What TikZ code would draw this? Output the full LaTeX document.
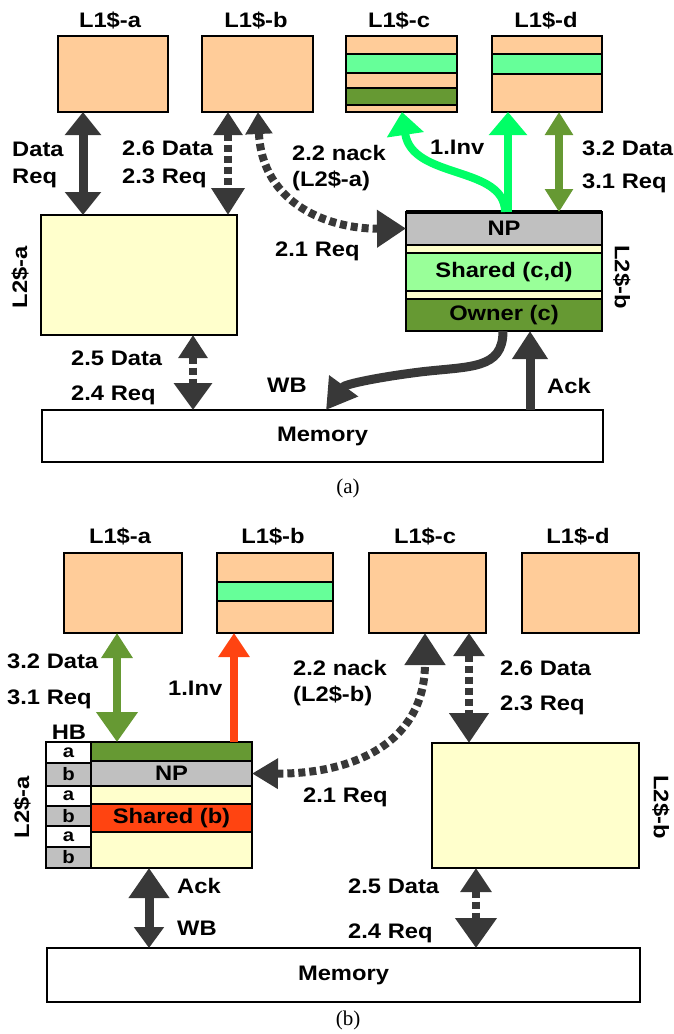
\documentclass[tikz,border=0pt]{standalone}
\usepackage{fontspec}
\newfontfamily\labfont[FakeStretch=1.13]{Liberation Sans}
\newfontfamily\capfont{Liberation Serif}
\usetikzlibrary{arrows.meta}
\definecolor{peach}{HTML}{FFCC99}
\definecolor{lyellow}{HTML}{FFFFCC}
\definecolor{stripegreen}{HTML}{66FF99}
\definecolor{sharedgreen}{HTML}{99FF99}
\definecolor{ogreen}{HTML}{669933}
\definecolor{npgray}{HTML}{C0C0C0}
\definecolor{adark}{HTML}{383838}
\definecolor{invgreen}{HTML}{00FF66}
\definecolor{invred}{HTML}{FF4411}
\tikzset{
  lbl/.style={font=\labfont\bfseries\fontsize{21}{24}\selectfont, inner sep=0pt, anchor=base west},
  clbl/.style={lbl, anchor=base},
  rlbl/.style={font=\labfont\bfseries\fontsize{21}{24}\selectfont, inner sep=0pt, anchor=center},
  cbox/.style={draw=black, line width=2pt, inner sep=0pt, outer sep=0pt, rectangle,
    font=\labfont\bfseries\fontsize{21}{24}\selectfont},
  hbcell/.style={cbox, minimum width=45pt, font=\labfont\bfseries\fontsize{18}{20}\selectfont},
  solidarr/.style={draw=adark, line width=9pt},
  dasharr/.style={draw=adark, line width=8pt, dash pattern=on 7pt off 4pt},
  grarr/.style={draw=invgreen, line width=8pt},
  olarr/.style={draw=ogreen, line width=8pt},
  rdarr/.style={draw=invred, line width=8pt},
}
\begin{document}
\begin{tikzpicture}[x=1pt,y=-1pt]
\useasboundingbox (0,0) rectangle (673,1034);
% ================= panel (a) =================
\node[clbl] (tl1aA) at (110,27) {L1\$-a};
\node[clbl] (tl1bA) at (256,27) {L1\$-b};
\node[clbl] (tl1cA) at (399,27) {L1\$-c};
\node[clbl] (tl1dA) at (546,27) {L1\$-d};
\node[cbox, fill=peach, minimum width=110pt, minimum height=76pt] (l1aA) at (113,74) {};
\node[cbox, fill=peach, minimum width=111pt, minimum height=76pt] (l1bA) at (257.5,74) {};
\node[cbox, fill=peach, minimum width=111pt, minimum height=76pt] (l1cA) at (401.5,74) {};
\node[cbox, fill=stripegreen, minimum width=111pt, minimum height=19pt] (l1cAs1) at (401.5,63.5) {};
\node[cbox, fill=ogreen, minimum width=111pt, minimum height=17pt] (l1cAs2) at (401.5,96.5) {};
\node[cbox, fill=peach, minimum width=110pt, minimum height=76pt] (l1dA) at (547,74) {};
\node[cbox, fill=stripegreen, minimum width=110pt, minimum height=20pt] (l1dAs1) at (547,64) {};
% L2$-a
\node[cbox, fill=lyellow, minimum width=196pt, minimum height=120pt] (l2aA) at (139,275) {};
\node[rlbl, rotate=90] (tl2aA) at (20,277) {L2\$-a};
% L2$-b
\node[cbox, fill=npgray, minimum width=196pt, minimum height=33pt] (npA) at (504,228.5) {NP};
\node[cbox, fill=lyellow, minimum width=196pt, minimum height=8pt] (yA1) at (504,249) {};
\node[cbox, fill=sharedgreen, minimum width=196pt, minimum height=38pt] (shA) at (504,272) {Shared (c,d)};
\node[cbox, fill=lyellow, minimum width=196pt, minimum height=8pt] (yA2) at (504,295) {};
\node[cbox, fill=ogreen, minimum width=196pt, minimum height=32pt] (owA) at (504,315) {Owner (c)};
\node[cbox, minimum width=196pt, minimum height=119pt] (l2bA) at (504,271.5) {};
\draw[line width=3.5pt] (l2bA.north west) -- (l2bA.north east);
\node[rlbl, rotate=-90] (tl2bA) at (622,277) {L2\$-b};
% Memory
\node[cbox, fill=white, minimum width=561pt, minimum height=52pt] (memA) at (322.5,436) {Memory};
% coordinates for arrow x positions
\coordinate (xa1) at (83,0);
\coordinate (xa2) at (228,0);
\coordinate (xa3) at (258,0);
\coordinate (xa4) at (508,0);
\coordinate (xa5) at (505,0);
\coordinate (xa5b) at (402,0);
\coordinate (xa6) at (559,0);
\coordinate (xa7) at (503,0);
\coordinate (xa7b) at (326,0);
\coordinate (xa8) at (530,0);
\coordinate (xa9) at (193,0);
% arrows (a)
\draw[solidarr, {Triangle[width=35pt,length=23pt]}-{Triangle[width=35pt,length=23pt]}]
  (xa1 |- l1aA.south) -- (xa1 |- l2aA.north);
\draw[dasharr, {Triangle[width=28pt,length=23pt]}-{Triangle[width=32pt,length=27pt]}]
  (xa2 |- l1bA.south) -- (xa2 |- l2aA.north);
\draw[dasharr, {Triangle[width=26pt,length=22pt]}-{Triangle[width=36pt,length=29pt]}]
  (xa3 |- l1bA.south) .. controls (262,205) and (330,229) .. (npA.west);
\draw[grarr, -{Triangle[width=37pt,length=23pt]}] (xa4 |- npA.north) -- (xa4 |- l1dA.south);
\draw[grarr, -{Triangle[width=36pt,length=23pt]}]
  (xa5 |- npA.north) .. controls (505,165) and (412,180) .. (xa5b |- l1cA.south);
\draw[olarr, {Triangle[width=27pt,length=23pt]}-{Triangle[width=27pt,length=23pt]}]
  (xa6 |- l1dA.south) -- (xa6 |- npA.north);
\draw[solidarr, -{Triangle[width=34pt,length=30pt]}]
  (xa7 |- owA.south) .. controls (503,370) and (470,366) .. (420,372)
  .. controls (380,377) and (345,384) .. (xa7b |- memA.north);
\draw[solidarr, -{Triangle[width=34pt,length=28pt]}] (xa8 |- memA.north) -- (xa8 |- l2bA.south);
\draw[dasharr, {Triangle[width=28pt,length=23pt]}-{Triangle[width=37pt,length=27pt]}]
  (xa9 |- l2aA.south) -- (xa9 |- memA.north);
% labels (a)
\node[lbl] (tdA) at (12,156) {Data};
\node[lbl] (trA) at (12,183) {Req};
\node[lbl] (t26A) at (122,155) {2.6 Data};
\node[lbl] (t23A) at (122,183) {2.3 Req};
\node[lbl] (t22A) at (292,160) {2.2 nack};
\node[lbl] (tl2A) at (292,186) {(L2\$-a)};
\node[lbl] (tinvA) at (430,154) {1.Inv};
\node[lbl] (t32A) at (582,155) {3.2 Data};
\node[lbl] (t31A) at (582,188) {3.1 Req};
\node[lbl] (t21A) at (275,256) {2.1 Req};
\node[lbl] (t25A) at (71,365) {2.5 Data};
\node[lbl] (t24A) at (71,400) {2.4 Req};
\node[lbl] (twbA) at (267,392) {WB};
\node[lbl] (tackA) at (547,393) {Ack};
\node[font=\capfont\fontsize{21}{24}\selectfont, anchor=base, inner sep=0pt] (capA) at (348,493) {(a)};
% ================= panel (b) =================
\node[clbl] (tl1aB) at (120,543) {L1\$-a};
\node[clbl] (tl1bB) at (273,543) {L1\$-b};
\node[clbl] (tl1cB) at (425,543) {L1\$-c};
\node[clbl] (tl1dB) at (578,543) {L1\$-d};
\node[cbox, fill=peach, minimum width=118pt, minimum height=80pt] (l1aB) at (123,593) {};
\node[cbox, fill=peach, minimum width=116pt, minimum height=80pt] (l1bB) at (275,593) {};
\node[cbox, fill=stripegreen, minimum width=116pt, minimum height=19pt] (l1bBs1) at (275,591.5) {};
\node[cbox, fill=peach, minimum width=117pt, minimum height=80pt] (l1cB) at (427.5,593) {};
\node[cbox, fill=peach, minimum width=117pt, minimum height=80pt] (l1dB) at (580.5,593) {};
% L2$-a (b)
\node[cbox, fill=ogreen, minimum width=161pt, minimum height=19pt] (r1B) at (171.5,751.5) {};
\node[cbox, fill=npgray, minimum width=161pt, minimum height=25pt] (npB) at (171.5,773.5) {NP};
\node[cbox, fill=lyellow, minimum width=161pt, minimum height=18pt] (r3B) at (171.5,795) {};
\node[cbox, fill=invred, minimum width=161pt, minimum height=28pt] (shB) at (171.5,818) {Shared (b)};
\node[cbox, fill=lyellow, minimum width=161pt, minimum height=36pt] (r5B) at (171.5,850) {};
\node[hbcell, fill=white, minimum height=21pt] (hb1) at (68.5,752.5) {a};
\node[hbcell, fill=npgray, minimum height=23pt] (hb2) at (68.5,774.5) {b};
\node[hbcell, fill=white, minimum height=20pt] (hb3) at (68.5,796) {a};
\node[hbcell, fill=npgray, minimum height=20pt] (hb4) at (68.5,816) {b};
\node[hbcell, fill=white, minimum height=21pt] (hb5) at (68.5,836.5) {a};
\node[hbcell, fill=npgray, minimum height=21pt] (hb6) at (68.5,857.5) {b};
\node[cbox, minimum width=206pt, minimum height=126pt] (l2aB) at (149,805) {};
\node[clbl] (thb) at (69,739) {HB};
\node[rlbl, rotate=90] (tl2aB) at (22,807) {L2\$-a};
% L2$-b (b)
\node[cbox, fill=lyellow, minimum width=207pt, minimum height=125pt] (l2bB) at (535.5,805.5) {};
\node[rlbl, rotate=-90] (tl2bB) at (661,807) {L2\$-b};
% Memory (b)
\node[cbox, fill=white, minimum width=593pt, minimum height=54pt] (memB) at (343.5,975) {Memory};
% coordinates (b)
\coordinate (xb1) at (117,0);
\coordinate (xb2) at (234,0);
\coordinate (xb3) at (425,0);
\coordinate (xb4) at (469,0);
\coordinate (xb5) at (149,0);
\coordinate (xb6) at (476,0);
% arrows (b)
\draw[olarr, {Triangle[width=30pt,length=25pt]}-{Triangle[width=40pt,length=30pt]}]
  (xb1 |- l1aB.south) -- (xb1 |- l2aB.north);
\draw[rdarr, -{Triangle[width=30pt,length=24pt]}] (xb2 |- l2aB.north) -- (xb2 |- l1bB.south);
\draw[dasharr, {Triangle[width=29pt,length=26pt]}-{Triangle[width=39pt,length=32pt]}]
  (npB.east) .. controls (350,774) and (425,745) .. (xb3 |- l1cB.south);
\draw[dasharr, {Triangle[width=30pt,length=23pt]}-{Triangle[width=38pt,length=30pt]}]
  (xb4 |- l1cB.south) -- (xb4 |- l2bB.north);
\draw[solidarr, {Triangle[width=39pt,length=30pt]}-{Triangle[width=29pt,length=21pt]}]
  (xb5 |- l2aB.south) -- (xb5 |- memB.north);
\draw[dasharr, {Triangle[width=30pt,length=24pt]}-{Triangle[width=40pt,length=30pt]}]
  (xb6 |- l2bB.south) -- (xb6 |- memB.north);
% labels (b)
\node[lbl] (t32B) at (7,668) {3.2 Data};
\node[lbl] (t31B) at (7,704) {3.1 Req};
\node[lbl] (tinvB) at (168,695) {1.Inv};
\node[lbl] (t22B) at (293,675) {2.2 nack};
\node[lbl] (tl2B) at (293,701) {(L2\$-b)};
\node[lbl] (t26B) at (500,675) {2.6 Data};
\node[lbl] (t23B) at (500,710) {2.3 Req};
\node[lbl] (t21B) at (303,802) {2.1 Req};
\node[lbl] (tackB) at (177,893) {Ack};
\node[lbl] (twbB) at (177,935) {WB};
\node[lbl] (t25B) at (348,893) {2.5 Data};
\node[lbl] (t24B) at (348,938) {2.4 Req};
\node[font=\capfont\fontsize{21}{24}\selectfont, anchor=base, inner sep=0pt] (capB) at (348,1025) {(b)};
\end{tikzpicture}
\end{document}
